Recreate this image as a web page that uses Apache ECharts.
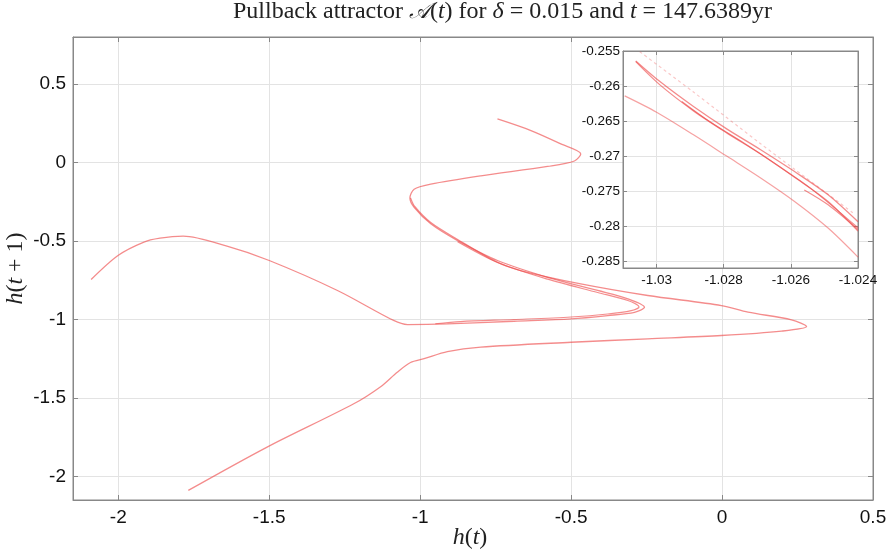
<!DOCTYPE html>
<html><head><meta charset="utf-8">
<script src="https://cdn.jsdelivr.net/npm/echarts@6/dist/echarts.min.js"></script>
<style>html,body{margin:0;padding:0;background:#fff}#c{width:892px;height:550px}</style>
</head><body><div id="c"></div>
<script>
// ---- tick values ----
const xTicks = [-2, -1.5, -1, -0.5, 0, 0.5];
const yTicks = [-2, -1.5, -1, -0.5, 0, 0.5];
const insetXTicks = [-1.03, -1.028, -1.026, -1.024];
const insetYTicks = [-0.285, -0.28, -0.275, -0.27, -0.265, -0.26, -0.255];

// ---- main attractor strands: [h(t), h(t+1)] ----
const strandA = [[-0.744,0.278],[-0.633,0.204],[-0.534,0.119],[-0.468,0.055],[-0.489,0.010],[-0.578,-0.025],[-0.799,-0.085],[-0.965,-0.138],[-1.020,-0.170],[-1.034,-0.226],[-1.020,-0.285],[-0.965,-0.390],[-0.876,-0.497],[-0.744,-0.624],[-0.578,-0.731],[-0.412,-0.815],[-0.312,-0.868],[-0.257,-0.922],[-0.290,-0.954],[-0.379,-0.975],[-0.500,-0.996],[-0.689,-1.011],[-0.910,-1.028],[-1.042,-1.032],[-1.088,-1.006],[-1.274,-0.815],[-1.500,-0.624],[-1.640,-0.533],[-1.785,-0.469],[-1.862,-0.482],[-1.917,-0.508],[-2.001,-0.592],[-2.090,-0.745]];
const strandB = [[-1.768,-2.089],[-1.507,-1.813],[-1.220,-1.537],[-1.131,-1.428],[-1.076,-1.336],[-1.032,-1.274],[-0.987,-1.250],[-0.910,-1.205],[-0.799,-1.176],[-0.500,-1.145],[-0.246,-1.123],[-0.002,-1.102],[0.197,-1.074],[0.280,-1.045],[0.230,-1.002],[0.086,-0.953],[-0.002,-0.911],[-0.246,-0.847],[-0.468,-0.773],[-0.667,-0.688],[-0.750,-0.630],[-0.876,-0.490],[-0.965,-0.382],[-1.018,-0.280],[-1.032,-0.225]];
const strandC = [[-0.876,-0.505],[-0.744,-0.637],[-0.578,-0.743],[-0.412,-0.828],[-0.312,-0.879],[-0.275,-0.920],[-0.301,-0.943],[-0.379,-0.965],[-0.500,-0.984],[-0.690,-1.000],[-0.866,-1.013],[-0.950,-1.027]];

// ---- inset strands ----
const insetS1 = [[-1.03062,-0.25642],[-1.0299,-0.25937],[-1.0289,-0.26293],[-1.0279,-0.26616],[-1.0269,-0.26910],[-1.0259,-0.27219],[-1.0249,-0.27551],[-1.0240,-0.27940]];
const insetS2 = [[-1.03062,-0.25652],[-1.0299,-0.25984],[-1.0289,-0.26355],[-1.0279,-0.26673],[-1.0269,-0.26972],[-1.0259,-0.27300],[-1.0249,-0.27646],[-1.0240,-0.28073]];
const insetS3 = [[-1.02925,-0.26222],[-1.0284,-0.26516],[-1.0274,-0.26815],[-1.0264,-0.27133],[-1.0254,-0.27466],[-1.0240,-0.28026]];
const insetS4 = [[-1.0256,-0.27485],[-1.0249,-0.27694],[-1.0240,-0.28050]];
const insetS5 = [[-1.0305,-0.25510],[-1.0289,-0.26087],[-1.0269,-0.26825],[-1.0259,-0.27186],[-1.0241,-0.27830]];
const insetLow = [[-1.03095,-0.26141],[-1.0300,-0.26374],[-1.0289,-0.26697],[-1.0279,-0.27005],[-1.0269,-0.27314],[-1.0259,-0.27646],[-1.0249,-0.28026],[-1.0240,-0.28444]];

const LINE = 'rgba(238,70,70,0.62)';
const AX = '#888';
const fmt = v => String(parseFloat(Number(v).toFixed(4)));

function axisBase(opts) {
  return Object.assign({
    type: 'value',
    axisLine: { show: true, onZero: false, lineStyle: { color: AX, width: 1 } },
    axisTick: { show: true, inside: true, length: 5, lineStyle: { color: AX } },
    splitLine: { show: false },
    axisLabel: { show: false }
  }, opts);
}

const chart = echarts.init(document.getElementById('c'), null, { renderer: 'canvas' });
const NS = 24;
const rich = {
  i: { fontFamily: 'Liberation Serif', fontStyle: 'italic', fontWeight: 'normal', fontSize: NS, color: '#222' },
  n: { fontFamily: 'Liberation Serif', fontWeight: 'normal', fontSize: NS, color: '#222' }
};
const TS = 24;
chart.setOption({
  animation: false,
  backgroundColor: '#fff',
  title: {
    text: '{n|Pullback attractor }{c|𝒜}{n|(}{i|t}{n|) for }{i|δ}{n| = 0.015 and }{i|t}{n| = 147.6389yr}',
    left: 233, top: 0, padding: 0,
    textStyle: {
      fontFamily: 'Liberation Serif', fontWeight: 'normal', fontSize: TS, color: '#222',
      rich: {
        n: { fontFamily: 'Liberation Serif', fontWeight: 'normal', fontSize: TS, color: '#222' },
        i: { fontFamily: 'Liberation Serif', fontStyle: 'italic', fontWeight: 'normal', fontSize: TS, color: '#222' },
        c: { fontFamily: 'DejaVu Serif', fontStyle: 'italic', fontWeight: 'normal', fontSize: TS - 2, color: '#222' }
      }
    }
  },
  grid: [
    { left: 73, top: 37, width: 800, height: 463, show: true, borderColor: AX, borderWidth: 1, backgroundColor: 'transparent', z: 0, outerBoundsMode: 'none', containLabel: false },
    { left: 623, top: 51, width: 235, height: 217, show: true, borderColor: AX, borderWidth: 1, backgroundColor: '#fff', z: 5, outerBoundsMode: 'none', containLabel: false }
  ],
  xAxis: [
    axisBase({ gridIndex: 0, position: 'bottom', min: -2.15, max: 0.5,
      axisTick: { show: true, inside: true, length: 5, lineStyle: { color: AX }, customValues: xTicks },
      axisLabel: { show: true, customValues: xTicks, formatter: fmt, margin: 8, fontFamily: 'Liberation Sans', fontSize: 19, color: '#111' },
      splitLine: { show: true, lineStyle: { color: '#e3e3e3', width: 1 } },
      name: '{i|h}{n|(}{i|t}{n|)}', nameLocation: 'middle', nameGap: 26, nameMoveOverlap: false,
      nameTextStyle: { rich: rich, padding: [0, 6, 0, 0] } }),
    axisBase({ gridIndex: 0, position: 'top', min: -2.15, max: 0.5,
      axisTick: { show: true, inside: true, length: 5, lineStyle: { color: AX }, customValues: xTicks } }),
    axisBase({ gridIndex: 1, position: 'bottom', min: -1.031, max: -1.024, z: 6,
      axisTick: { show: true, inside: true, length: 4, lineStyle: { color: AX }, customValues: insetXTicks },
      axisLabel: { show: true, customValues: insetXTicks, formatter: fmt, margin: 5, fontFamily: 'Liberation Sans', fontSize: 13.5, color: '#111' },
      splitLine: { show: true, lineStyle: { color: '#e3e3e3', width: 1 } } }),
    axisBase({ gridIndex: 1, position: 'top', min: -1.031, max: -1.024, z: 6,
      axisTick: { show: true, inside: true, length: 4, lineStyle: { color: AX }, customValues: insetXTicks } })
  ],
  yAxis: [
    axisBase({ gridIndex: 0, position: 'left', min: -2.15, max: 0.8,
      axisTick: { show: true, inside: true, length: 5, lineStyle: { color: AX }, customValues: yTicks },
      axisLabel: { show: true, customValues: yTicks, formatter: fmt, margin: 7, fontFamily: 'Liberation Sans', fontSize: 19, color: '#111' },
      splitLine: { show: true, lineStyle: { color: '#e3e3e3', width: 1 } },
      name: '{i|h}{n|(}{i|t}{n| + 1)}', nameLocation: 'middle', nameGap: 45, nameRotate: 90, nameMoveOverlap: false,
      nameTextStyle: { rich: rich } }),
    axisBase({ gridIndex: 0, position: 'right', min: -2.15, max: 0.8,
      axisTick: { show: true, inside: true, length: 5, lineStyle: { color: AX }, customValues: yTicks } }),
    axisBase({ gridIndex: 1, position: 'left', min: -0.286, max: -0.255, z: 6,
      axisTick: { show: true, inside: true, length: 4, lineStyle: { color: AX }, customValues: insetYTicks },
      axisLabel: { show: true, customValues: insetYTicks, formatter: fmt, margin: 3, fontFamily: 'Liberation Sans', fontSize: 13.5, color: '#111' },
      splitLine: { show: true, lineStyle: { color: '#e3e3e3', width: 1 } } }),
    axisBase({ gridIndex: 1, position: 'right', min: -0.286, max: -0.255, z: 6,
      axisTick: { show: true, inside: true, length: 4, lineStyle: { color: AX }, customValues: insetYTicks } })
  ],
  series: [
    { type: 'line', xAxisIndex: 0, yAxisIndex: 0, data: strandA, smooth: 0.3, showSymbol: false, lineStyle: { color: LINE, width: 1.3 } },
    { type: 'line', xAxisIndex: 0, yAxisIndex: 0, data: strandB, smooth: 0.3, showSymbol: false, lineStyle: { color: LINE, width: 1.3 } },
    { type: 'line', xAxisIndex: 0, yAxisIndex: 0, data: strandC, smooth: 0.3, showSymbol: false, lineStyle: { color: LINE, width: 1.2 } },
    { type: 'line', xAxisIndex: 2, yAxisIndex: 2, z: 7, data: insetS1, smooth: 0.3, showSymbol: false, lineStyle: { color: LINE, width: 1.3 } },
    { type: 'line', xAxisIndex: 2, yAxisIndex: 2, z: 7, data: insetS2, smooth: 0.3, showSymbol: false, lineStyle: { color: LINE, width: 1.3 } },
    { type: 'line', xAxisIndex: 2, yAxisIndex: 2, z: 7, data: insetS3, smooth: 0.3, showSymbol: false, lineStyle: { color: LINE, width: 1.2 } },
    { type: 'line', xAxisIndex: 2, yAxisIndex: 2, z: 7, data: insetS4, smooth: 0.3, showSymbol: false, lineStyle: { color: LINE, width: 1.2 } },
    { type: 'line', xAxisIndex: 2, yAxisIndex: 2, z: 7, data: insetS5, smooth: 0.3, showSymbol: false, lineStyle: { color: 'rgba(238,70,70,0.3)', width: 1.2, type: [3, 3] } },
    { type: 'line', xAxisIndex: 2, yAxisIndex: 2, z: 7, data: insetLow, smooth: 0.3, showSymbol: false, lineStyle: { color: 'rgba(238,70,70,0.5)', width: 1.2 } }
  ]
});
</script></body></html>
